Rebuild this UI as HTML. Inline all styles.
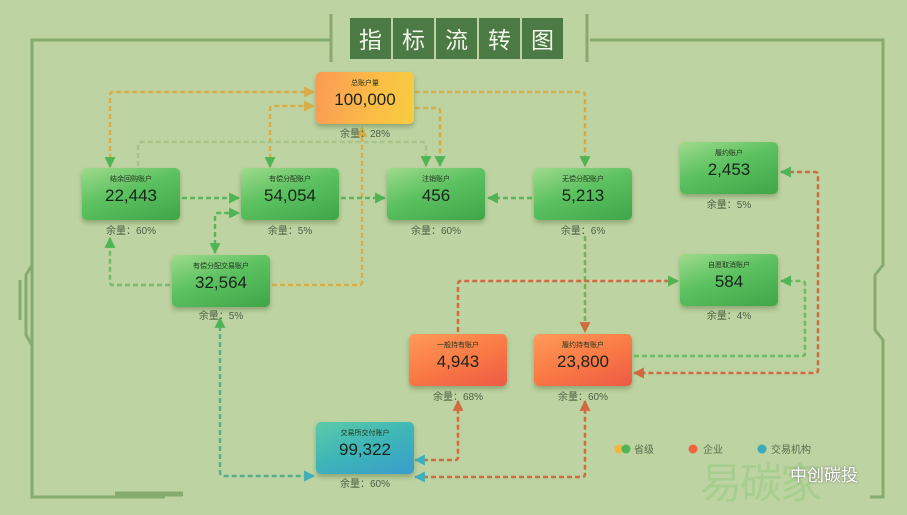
<!DOCTYPE html>
<html><head><meta charset="utf-8"><style>
html,body{margin:0;padding:0}
body{width:907px;height:515px;background:#bdd3a1;position:relative;overflow:hidden;font-family:"Liberation Sans","Noto Sans CJK SC",sans-serif}
.n{position:absolute;width:98px;height:52px;border-radius:5px;text-align:center;box-shadow:0 3px 5px rgba(60,90,40,.35);color:#1d2b1a}
.g{background:linear-gradient(160deg,#9fdb8c 0%,#5cc160 45%,#3ea648 100%)}
.o{background:linear-gradient(160deg,#ff9a5a 0%,#fa7a45 50%,#ec5a45 100%)}
.y{background:linear-gradient(100deg,#fb9a55 0%,#fbbd45 60%,#f7cc40 100%)}
.t{background:linear-gradient(160deg,#5ccaa8 0%,#3db5b8 50%,#3a9ccc 100%)}
.n .a{font-size:7px;margin-top:7px;line-height:9px;color:#23361f}
.n .b{font-size:17px;line-height:22px;margin-top:1px;color:#18241a}
.r{position:absolute;width:98px;text-align:center;font-size:10px;color:#4e5e44}
.title{position:absolute;top:18px;left:350px;display:flex;gap:2px}
.title span{width:41px;height:41px;background:#4b7a45;color:#f2f5ea;font-size:23px;line-height:41px;text-align:center;font-family:"Noto Sans CJK SC",sans-serif}
.lg{position:absolute;top:441px;font-size:10px;color:#5b6b50}
</style></head><body>
<svg width="907" height="515" style="position:absolute;left:0;top:0">
<defs>
<marker id="ag" markerWidth="11" markerHeight="11" refX="9" refY="5" orient="auto-start-reverse" markerUnits="userSpaceOnUse" viewBox="0 0 10 10"><path d="M0,0L10,5L0,10z" fill="#4fb455"/></marker>
<marker id="ay" markerWidth="11" markerHeight="11" refX="9" refY="5" orient="auto-start-reverse" markerUnits="userSpaceOnUse" viewBox="0 0 10 10"><path d="M0,0L10,5L0,10z" fill="#d7ad48"/></marker>
<marker id="ao" markerWidth="11" markerHeight="11" refX="9" refY="5" orient="auto-start-reverse" markerUnits="userSpaceOnUse" viewBox="0 0 10 10"><path d="M0,0L10,5L0,10z" fill="#d06a40"/></marker>
<marker id="at" markerWidth="11" markerHeight="11" refX="9" refY="5" orient="auto-start-reverse" markerUnits="userSpaceOnUse" viewBox="0 0 10 10"><path d="M0,0L10,5L0,10z" fill="#3fb0bb"/></marker>
</defs>
<g fill="none" stroke="#86ab70" stroke-width="3">
<path d="M330,40H32V497H165"/><path d="M590,40H883V265L875,275V330L883,340V497H870"/>
<path d="M331,14V62M587,14V62" stroke-width="3"/>
<path d="M32,265L26,275V335L32,345"/>
<path d="M115,494H183" stroke-width="5"/>
<path d="M20,280V320" stroke-width="3"/>
</g>
<g fill="none" stroke-width="2.5" stroke-dasharray="5,3">
<path d="M110,167V95Q110,92 113,92H314" stroke="#d7ad48" marker-end="url(#ay)" marker-start="url(#ag)"/>
<path d="M270,167V109Q270,106 273,106H314" stroke="#d7ad48" marker-end="url(#ay)" marker-start="url(#ag)"/>
<path d="M415,92H582Q585,92 585,95V166" stroke="#d7ad48" marker-end="url(#ag)"/>
<path d="M415,108H437Q440,108 440,111V166" stroke="#d7ad48" marker-end="url(#ag)"/>
<path d="M272,285H359Q362,285 362,282V127" stroke="#d7ad48" marker-end="url(#ay)"/>
<path d="M138,166V146Q138,142 142,142H422Q426,142 426,146V166" stroke="#a7c48a" marker-end="url(#ag)"/>
<path d="M182,198H239" stroke="#5ab55c" marker-end="url(#ag)"/>
<path d="M341,198H385" stroke="#5ab55c" marker-end="url(#ag)"/>
<path d="M532,198H488" stroke="#5ab55c" marker-end="url(#ag)"/>
<path d="M215,253V216Q215,213 218,213H239" stroke="#5ab55c" marker-end="url(#ag)" marker-start="url(#ag)"/>
<path d="M170,285H113Q110,285 110,282V238" stroke="#7cb86d" marker-end="url(#ag)"/>
<path d="M220,318V472Q220,476 224,476H314" stroke="#5aaf8a" marker-end="url(#at)" marker-start="url(#ag)"/>
<path d="M585,236V332" stroke="#7aaf5e" marker-end="url(#ao)"/>
<path d="M458,332V284Q458,281 461,281H678" stroke="#d06a40" marker-end="url(#ag)"/>
<path d="M634,356H802Q805,356 805,353V284Q805,281 802,281H781" stroke="#6dbb63" marker-end="url(#ag)"/>
<path d="M781,172H815Q818,172 818,175V370Q818,373 815,373H634" stroke="#d06a40" marker-end="url(#ao)" marker-start="url(#ag)"/>
<path d="M415,460H455Q458,460 458,457V401" stroke="#d06a40" marker-end="url(#ao)" marker-start="url(#at)"/>
<path d="M415,477H582Q585,477 585,474V401" stroke="#d06a40" marker-end="url(#ao)" marker-start="url(#at)"/>
</g>
<circle cx="619" cy="449" r="4.5" fill="#f5b53a"/><circle cx="626" cy="449" r="4.5" fill="#4fb455"/>
<circle cx="693" cy="449" r="4.5" fill="#f0663c"/><circle cx="762" cy="449" r="4.5" fill="#3aaab8"/>
</svg>
<div class="title"><span>指</span><span>标</span><span>流</span><span>转</span><span>图</span></div>

<div class="n y" style="left:316px;top:72px"><div class="a">总账户量</div><div class="b">100,000</div></div><div class="r" style="left:316px;top:125px">余量：28%</div>
<div class="n g" style="left:82px;top:168px"><div class="a">结余回购账户</div><div class="b">22,443</div></div><div class="r" style="left:82px;top:222px">余量：60%</div>
<div class="n g" style="left:241px;top:168px"><div class="a">有偿分配账户</div><div class="b">54,054</div></div><div class="r" style="left:241px;top:222px">余量：5%</div>
<div class="n g" style="left:387px;top:168px"><div class="a">注销账户</div><div class="b">456</div></div><div class="r" style="left:387px;top:222px">余量：60%</div>
<div class="n g" style="left:534px;top:168px"><div class="a">无偿分配账户</div><div class="b">5,213</div></div><div class="r" style="left:534px;top:222px">余量：6%</div>
<div class="n g" style="left:172px;top:255px"><div class="a">有偿分配交易账户</div><div class="b">32,564</div></div><div class="r" style="left:172px;top:307px">余量：5%</div>
<div class="n g" style="left:680px;top:142px"><div class="a">履约账户</div><div class="b">2,453</div></div><div class="r" style="left:680px;top:196px">余量：5%</div>
<div class="n g" style="left:680px;top:254px"><div class="a">自愿取消账户</div><div class="b">584</div></div><div class="r" style="left:680px;top:307px">余量：4%</div>
<div class="n o" style="left:409px;top:334px"><div class="a">一般持有账户</div><div class="b">4,943</div></div><div class="r" style="left:409px;top:388px">余量：68%</div>
<div class="n o" style="left:534px;top:334px"><div class="a">履约持有账户</div><div class="b">23,800</div></div><div class="r" style="left:534px;top:388px">余量：60%</div>
<div class="n t" style="left:316px;top:422px"><div class="a">交易所交付账户</div><div class="b">99,322</div></div><div class="r" style="left:316px;top:475px">余量：60%</div>

<div class="lg" style="left:634px">省级</div><div class="lg" style="left:703px">企业</div><div class="lg" style="left:771px">交易机构</div>
<div style="position:absolute;left:700px;top:450px;font-size:42px;color:rgba(140,200,120,.45);font-family:'Noto Sans CJK SC',sans-serif;letter-spacing:-2px">易碳家</div>
<div style="position:absolute;left:790px;top:461px;font-size:17px;color:#fff;text-shadow:0 0 2px #666;font-family:'Noto Sans CJK SC',sans-serif">中创碳投</div>
</body></html>
